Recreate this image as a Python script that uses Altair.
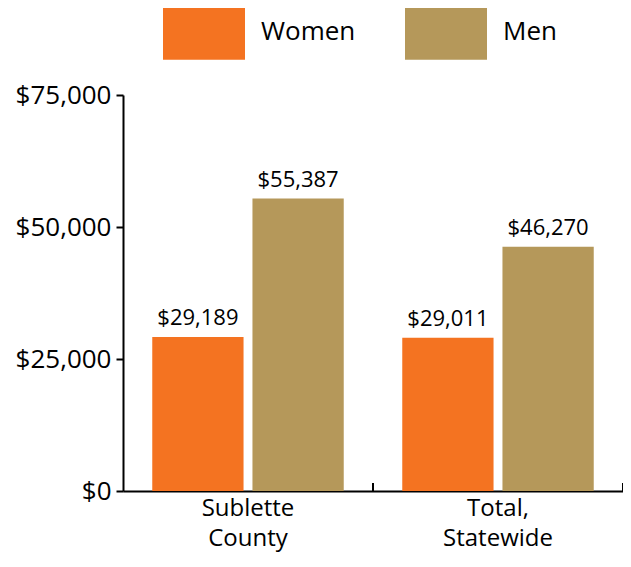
import altair as alt
import pandas as pd

categories = ["Sublette County", "Total, Statewide"]
women = [29189, 29011]
men = [55387, 46270]
genders = ["Women", "Men"]
colors = ["#F47321", "#B5985A"]

rows = []
for c, w, m in zip(categories, women, men):
    rows.append({"cat": c, "gender": "Women", "value": w})
    rows.append({"cat": c, "gender": "Men", "value": m})
df = pd.DataFrame(rows)

FONT = "Open Sans"
W, H = 500, 396

x = alt.X("cat:N", sort=categories, title=None,
          scale=alt.Scale(paddingInner=0, paddingOuter=0),
          axis=alt.Axis(labelExpr="split(datum.label, ' ')", labelFontSize=24,
                        labelLineHeight=30, labelPadding=5, labelAngle=0,
                        labelColor="black", labelFont=FONT, ticks=False,
                        domainColor="black", domainWidth=2))
xo = alt.XOffset("gender:N", sort=genders,
                 scale=alt.Scale(paddingInner=0.089, paddingOuter=0.292))
y = alt.Y("value:Q", title=None,
          scale=alt.Scale(domain=[0, 75000], nice=False),
          axis=alt.Axis(values=[0, 25000, 50000, 75000], format="$,.0f",
                        labelFontSize=26, labelFont=FONT, labelColor="black",
                        labelPadding=5, tickSize=7, tickWidth=2, tickColor="black",
                        domainColor="black", domainWidth=2, grid=False))
color = alt.Color("gender:N", sort=genders,
                  scale=alt.Scale(domain=genders, range=colors),
                  legend=alt.Legend(title=None, orient="none", direction="horizontal",
                                    legendX=40, legendY=-104,
                                    symbolType="M-1,-0.67H1V0.67H-1Z",
                                    symbolSize=6724, symbolStrokeWidth=0,
                                    symbolOpacity=1,
                                    labelFontSize=26, labelFont=FONT, labelColor="black",
                                    labelOffset=16, columnPadding=49, padding=0))

bars = alt.Chart(df).mark_bar(opacity=1).encode(x=x, xOffset=xo, y=y, color=color)
text = alt.Chart(df).mark_text(baseline="bottom", dy=-7, fontSize=22, font=FONT,
                               color="black").encode(
    x=alt.X("cat:N", sort=categories), xOffset=xo, y="value:Q",
    text=alt.Text("value:Q", format="$,.0f"))
ticks = alt.Chart(pd.DataFrame({"cat": categories})).mark_rule(
    color="black", strokeWidth=2).encode(
    x=alt.X("cat:N", sort=categories, bandPosition=1),
    y=alt.value(H), y2=alt.value(H - 8))

chart = alt.layer(bars, text, ticks).properties(
    width=W, height=H,
    autosize=alt.AutoSizeParams(type="none"),
    padding={"left": 115, "top": 87, "right": 0, "bottom": 68},
).configure_view(stroke=None)

chart.save("out.html", embed_options={"renderer": "svg", "actions": False})
